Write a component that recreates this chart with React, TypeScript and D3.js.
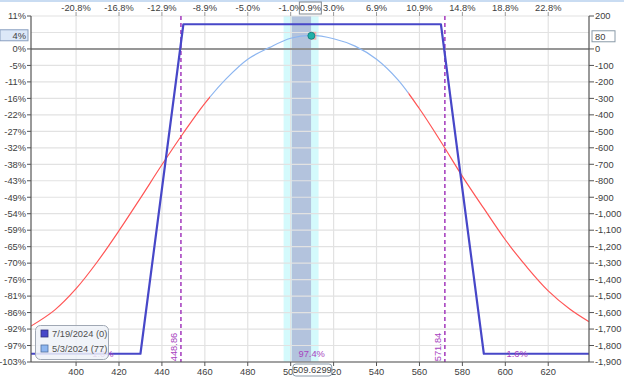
import React from "react";
import * as d3 from "d3";

const W = 624;
const H = 377;

// Price axis ticks (bottom) and % change labels (top)
const priceTicks = [400, 420, 440, 460, 480, 500, 520, 540, 560, 580, 600, 620];
const topLabels = ["-20.8%", "-16.8%", "-12.9%", "-8.9%", "-5.0%", "-1.0%", "3.0%", "6.9%", "10.9%", "14.8%", "18.8%", "22.8%"];
const currentPrice = 509.6299;
const currentPriceLabel = "509.6299";
const currentPctLabel = "0.9%";

// P/L axis ticks
const plTicks = [200, 0, -100, -200, -300, -400, -500, -600, -700, -800, -900, -1000, -1100, -1200, -1300, -1400, -1500, -1600, -1700, -1800, -1900];
const leftLabels = ["11%", "0%", "-5%", "-11%", "-16%", "-22%", "-27%", "-32%", "-38%", "-43%", "-49%", "-54%", "-59%", "-65%", "-70%", "-76%", "-81%", "-86%", "-92%", "-97%", "-103%"];
const rightLabels = ["200", "0", "-100", "-200", "-300", "-400", "-500", "-600", "-700", "-800", "-900", "-1,000", "-1,100", "-1,200", "-1,300", "-1,400", "-1,500", "-1,600", "-1,700", "-1,800", "-1,900"];
const gridValues = [200, 100, 0, -100, -200, -300, -400, -500, -600, -700, -800, -900, -1000, -1100, -1200, -1300, -1400, -1500, -1600, -1700, -1800, -1900];
const markerValue = 80;
const markerLeftLabel = "4%";
const markerRightLabel = "80";

// Expiration P/L (7/19/2024)
const expPrices = [379, 430, 450, 570, 590, 639];
const expPL = [-1850, -1850, 150, 150, -1850, -1850];

// T+0 P/L (5/3/2024)
const t0Prices = [379, 390, 400, 410, 420, 430, 440, 450, 460, 470, 480, 490, 500, 509.6, 520, 530, 540, 550, 560, 570, 580, 590, 600, 610, 620, 630, 639];
const t0PL = [-1682, -1585, -1455, -1290, -1103, -905, -703, -510, -330, -180, -62, 8, 65, 82, 62, 17, -63, -188, -363, -563, -773, -968, -1158, -1323, -1468, -1578, -1655];

// Blue section of T+0 line (inside range), red outside
const t0BlueRange = [462.4, 554.8];

// Breakevens
const breakevens = [448.86, 571.84];
const breakevenLabels = ["448.86", "571.84"];

// Std-dev bands
const outerBand = [496.7, 513.0];
const innerBand = [500.5, 509.5];

// Probability labels
const probPrices = [412.5, 509.8, 605.5];
const probLabels = ["1.0%", "97.4%", "1.6%"];

// Legend
const legendLabels = ["7/19/2024 (0)", "5/3/2024 (77)"];

const FONT = "'Liberation Sans', Arial, sans-serif";
const FS = 9.3;

export default function App() {
  const left = 31, right = 589, top = 16, bottom = 362;
  const x = d3.scaleLinear().domain([379, 639]).range([left, right]);
  const y = d3.scaleLinear().domain([-1900, 200]).range([bottom, top]);

  const expLine = d3.line<number>().x((_, i) => x(expPrices[i])).y((d) => y(d));
  const t0Line = d3
    .line<number>()
    .x((_, i) => x(t0Prices[i]))
    .y((d) => y(d))
    .curve(d3.curveCatmullRom.alpha(0.5));

  const t0Path = t0Line(t0PL) || "";
  const purple = "#a844c0";
  const textCol = "#404040";

  return (
    <svg
      width={W}
      height={H}
      style={{ position: "absolute", left: 0, top: 0, display: "block", background: "#fff" }}
      fontFamily={FONT}
    >
      <defs>
        <clipPath id="plot">
          <rect x={left} y={top} width={right - left} height={bottom - top} />
        </clipPath>
        <clipPath id="blueclip">
          <rect x={x(t0BlueRange[0])} y={0} width={x(t0BlueRange[1]) - x(t0BlueRange[0])} height={H} />
        </clipPath>
        <clipPath id="redclip">
          <path
            d={`M${left},0H${x(t0BlueRange[0])}V${H}H${left}Z M${x(t0BlueRange[1])},0H${right}V${H}H${x(t0BlueRange[1])}Z`}
          />
        </clipPath>
      </defs>
      <rect x={0} y={0} width={W} height={2} fill="#c9dcf2" />

      {/* bands */}
      <rect x={x(outerBand[0])} y={top} width={x(outerBand[1]) - x(outerBand[0])} height={bottom - top} fill="#d4fafc" />
      <rect x={x(innerBand[0])} y={top} width={x(innerBand[1]) - x(innerBand[0])} height={bottom - top} fill="#b3c3dd" />

      {/* grid */}
      {priceTicks.map((p) => (
        <line key={"vg" + p} x1={x(p)} x2={x(p)} y1={top} y2={bottom} stroke="#e2e2e2" strokeWidth={1.2} />
      ))}
      {gridValues.map((v) => (
        <line key={"hg" + v} x1={left} x2={right} y1={y(v)} y2={y(v)} stroke="#e2e2e2" strokeWidth={1.2} />
      ))}
      <line x1={left} x2={right} y1={y(0)} y2={y(0)} stroke="#7a7a7a" strokeWidth={1.5} />

      {/* breakevens */}
      {breakevens.map((b, i) => (
        <g key={"be" + i}>
          <line x1={x(b)} x2={x(b)} y1={top} y2={bottom} stroke={purple} strokeWidth={1.6} strokeDasharray="4,3" />
          <text
            transform={`translate(${x(b) - 4},${bottom - 15}) rotate(-90)`}
            textAnchor="middle"
            fontSize={FS}
            fill={purple}
          >
            {breakevenLabels[i]}
          </text>
        </g>
      ))}

      {/* T+0 line */}
      <g clipPath="url(#plot)">
        <path d={t0Path} fill="none" stroke="#ff5555" strokeWidth={1.2} clipPath="url(#redclip)" />
        <path d={t0Path} fill="none" stroke="#8db6f0" strokeWidth={1.2} clipPath="url(#blueclip)" />
        <path d={expLine(expPL) || ""} fill="none" stroke="#4747c8" strokeWidth={2.2} strokeLinejoin="round" />
      </g>

      {/* peak marker */}
      <rect x={x(currentPrice) - 1} y={y(markerValue) - 4} width={6} height={8} fill="#f0a0a0" opacity={0.8} />
      <circle cx={x(currentPrice)} cy={y(markerValue)} r={3.5} fill="#20b0a8" stroke="#0a7a78" strokeWidth={0.8} />

      {/* probability labels */}
      {probPrices.map((p, i) => (
        <text key={"pr" + i} x={x(p)} y={357} textAnchor="middle" fontSize={FS} fill={purple}>
          {probLabels[i]}
        </text>
      ))}

      {/* axes */}
      <line x1={left} x2={left} y1={top} y2={bottom} stroke="#555" strokeWidth={1.2} />
      <line x1={right} x2={right} y1={top} y2={bottom} stroke="#555" strokeWidth={1.2} />
      <line x1={left} x2={right} y1={bottom} y2={bottom} stroke="#555" strokeWidth={1.2} />

      {plTicks.map((v, i) => (
        <g key={"yt" + v}>
          <line x1={left - 4} x2={left} y1={y(v)} y2={y(v)} stroke="#555" />
          <text x={left - 5} y={y(v) + 3.3} textAnchor="end" fontSize={FS} fill={textCol}>
            {leftLabels[i]}
          </text>
          <line x1={right} x2={right + 5} y1={y(v)} y2={y(v)} stroke="#555" />
          <text x={right + 6} y={y(v) + 3.3} textAnchor="start" fontSize={FS} fill={textCol}>
            {rightLabels[i]}
          </text>
        </g>
      ))}

      {priceTicks.map((p, i) => (
        <g key={"xt" + p}>
          <line x1={x(p)} x2={x(p)} y1={bottom} y2={bottom + 4} stroke="#555" />
          <text x={x(p)} y={bottom + 12.5} textAnchor="middle" fontSize={FS} fill={textCol}>
            {p}
          </text>
          <line x1={x(p)} x2={x(p)} y1={top - 4} y2={top} stroke="#999" />
          <text x={x(p)} y={11} textAnchor="middle" fontSize={FS} fill={textCol}>
            {topLabels[i]}
          </text>
        </g>
      ))}

      {/* current price boxes */}
      <rect x={x(currentPrice) - 18.5} y={364} width={39} height={12} rx={3} fill="#fff" stroke="#8a9aa8" />
      <text x={x(currentPrice) + 1} y={373} textAnchor="middle" fontSize={FS} fill={textCol}>
        {currentPriceLabel}
      </text>
      <rect x={x(currentPrice) - 12} y={2} width={22} height={12} fill="#fff" stroke="#808890" />
      <text x={x(currentPrice) - 1} y={11.3} textAnchor="middle" fontSize={FS} fill={textCol}>
        {currentPctLabel}
      </text>

      {/* marker value boxes */}
      <rect x={0} y={y(markerValue) - 6} width={28} height={11} fill="#dce8f8" stroke="#8aa0c0" />
      <text x={26} y={y(markerValue) + 3} textAnchor="end" fontSize={FS} fill={textCol}>
        {markerLeftLabel}
      </text>
      <rect x={right + 3} y={y(markerValue) - 5} width={23} height={11} fill="#fff" stroke="#8a9aa8" />
      <text x={right + 6} y={y(markerValue) + 4} textAnchor="start" fontSize={FS} fill={textCol}>
        {markerRightLabel}
      </text>

      {/* legend */}
      <rect x={35.5} y={325.5} width={73} height={34} rx={5} fill="#eef2f8" fillOpacity={0.85} stroke="#a0a8b4" />
      <rect x={41} y={330} width={7} height={7} fill="#4747c8" stroke="#30307a" strokeWidth={0.8} />
      <text x={52} y={337} fontSize={FS} fill="#505050">
        {legendLabels[0]}
      </text>
      <rect x={41} y={345} width={7} height={7} fill="#8db6f0" stroke="#5070a0" strokeWidth={0.8} />
      <text x={52} y={352} fontSize={FS} fill="#505050">
        {legendLabels[1]}
      </text>
    </svg>
  );
}
